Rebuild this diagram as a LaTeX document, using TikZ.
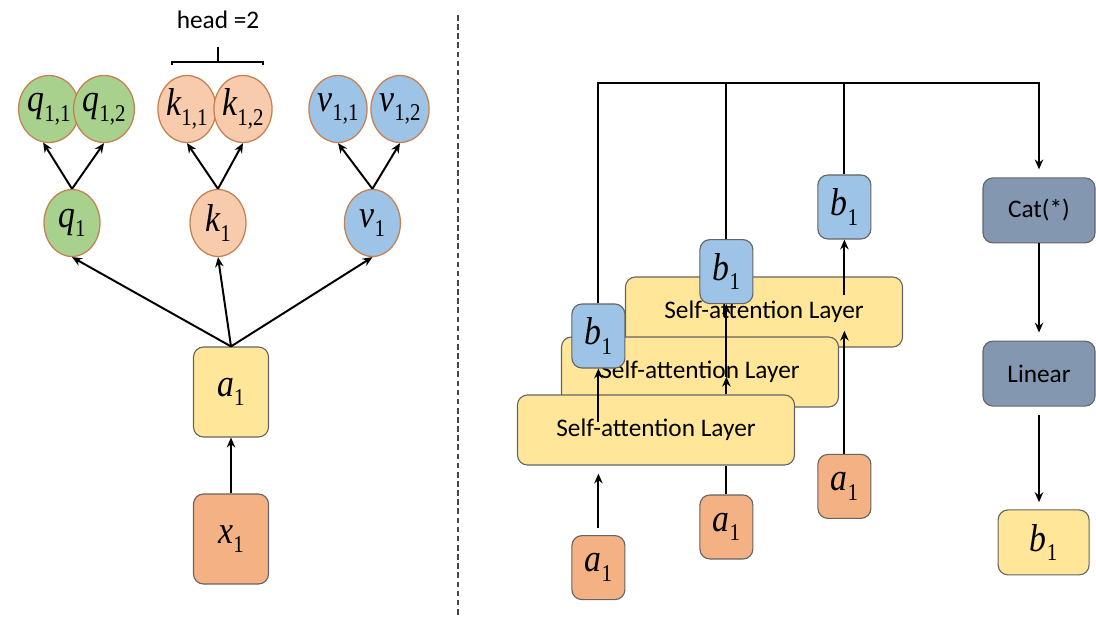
\documentclass[tikz,border=0pt]{standalone}
\usepackage{fontspec}
\setsansfont{Carlito}
\newfontfamily\tms{Liberation Serif}
\usepackage{tikz}
\usetikzlibrary{shapes,arrows,arrows.meta,positioning,calc}

\definecolor{qgreen}{RGB}{169,209,142}
\definecolor{kpeach}{RGB}{248,203,173}
\definecolor{vblue}{RGB}{157,195,230}
\definecolor{ayellow}{RGB}{255,230,153}
\definecolor{xorange}{RGB}{244,177,131}
\definecolor{slate}{RGB}{132,151,176}
\definecolor{rim}{RGB}{197,128,82}
\definecolor{edge}{RGB}{100,100,100}

% italic letter with a small upright index, slightly tall like the figure
\newcommand{\sym}[2]{\scalebox{1}[1.15]{{\tms\itshape #1}\raisebox{-0.25em}{\tms\scalebox{0.62}{#2}}}}

\tikzstyle{arr}   =[->, line width=1.4pt, >={Stealth[length=7pt,width=6pt]}]
\tikzstyle{vec}   =[ellipse, draw=rim, line width=0.9pt, minimum width=1.4cm, minimum height=1.675cm,
                    inner sep=0pt, font=\tms\fontsize{24}{28}\selectfont]
\tikzstyle{tok}   =[rectangle, draw=edge, line width=0.8pt, rounded corners=0.25cm, inner sep=0pt,
                    font=\tms\fontsize{24}{28}\selectfont]
\tikzstyle{small} =[tok, minimum width=1.325cm, minimum height=1.6cm]
\tikzstyle{big}   =[tok, minimum width=1.875cm, minimum height=2.25cm]
\tikzstyle{layer} =[tok, fill=ayellow, minimum width=6.925cm, minimum height=1.75cm,
                    font=\sffamily\fontsize{18}{22}\selectfont]
\tikzstyle{op}    =[tok, fill=slate, minimum width=2.8cm, minimum height=1.625cm,
                    font=\sffamily\fontsize{18}{22}\selectfont]

\begin{document}
\begin{tikzpicture}

  \useasboundingbox (0,0) rectangle (27.4,-15.425);

  % ── left: one token, two heads ───────────────────────────────────────────
  \node[vec, fill=qgreen] (q11) at (1.225,-2.725) {\sym{q}{1,1}};
  \node[vec, fill=qgreen] (q12) at (2.6,-2.725)   {\sym{q}{1,2}};
  \node[vec, fill=kpeach] (k11) at (4.675,-2.725) {\sym{k}{1,1}};
  \node[vec, fill=kpeach] (k12) at (6.075,-2.725) {\sym{k}{1,2}};
  \node[vec, fill=vblue]  (v11) at (8.45,-2.725)  {\sym{v}{1,1}};
  \node[vec, fill=vblue]  (v12) at (10.0,-2.725)  {\sym{v}{1,2}};

  \node[vec, fill=qgreen] (q1) at (1.8,-5.575)  {\sym{q}{1}};
  \node[vec, fill=kpeach] (k1) at (5.45,-5.575) {\sym{k}{1}};
  \node[vec, fill=vblue]  (v1) at (9.31,-5.575) {\sym{v}{1}};

  \node[big, fill=ayellow] (a1) at (5.775,-9.8)    {\sym{a}{1}};
  \node[big, fill=xorange] (x1) at (5.775,-13.475) {\sym{x}{1}};

  \node[font=\sffamily\fontsize{18}{22}\selectfont] (head) at (5.45,-0.5) {head =2};
  \draw[line width=1.2pt] (4.3,-1.625) -- (4.3,-1.55) -- (6.575,-1.55) -- (6.575,-1.625);
  \draw[line width=1.2pt] (5.45,-1.175) -- (5.45,-1.55);

  \draw[arr] (x1.north) -- (a1.south);
  \draw[arr] (a1.north) -- (q1.south);
  \draw[arr] (a1.north) -- (k1.south);
  \draw[arr] (a1.north) -- (v1.south);
  \draw[arr] (q1.north) -- (q11.-100);
  \draw[arr] (q1.north) -- (q12.south);
  \draw[arr] (k1.north) -- (k11.south);
  \draw[arr] (k1.north) -- (k12.south);
  \draw[arr] (v1.north) -- (v11.south);
  \draw[arr] (v1.north) -- (v12.south);

  % ── divider ──────────────────────────────────────────────────────────────
  \draw[edge!70!black, line width=0.9pt, dash pattern=on 4pt off 2.5pt] (11.45,-0.375) -- (11.45,-15.425);

  % ── right: stacked layers, back to front ─────────────────────────────────
  \node[layer] (L3) at (19.1,-7.8)   {Self-attention Layer};
  \node[layer] (L2) at (17.5,-9.3)   {Self-attention Layer};
  \node[layer] (L1) at (16.4,-10.75) {Self-attention Layer};

  \node[small, fill=vblue] (b1a) at (14.96,-8.4)   {\sym{b}{1}};
  \node[small, fill=vblue] (b1b) at (18.16,-6.79)  {\sym{b}{1}};
  \node[small, fill=vblue] (b1c) at (21.11,-5.175) {\sym{b}{1}};

  \node[small, fill=xorange] (a1a) at (14.96,-14.19)  {\sym{a}{1}};
  \node[small, fill=xorange] (a1b) at (18.16,-13.175) {\sym{a}{1}};
  \node[small, fill=xorange] (a1c) at (21.11,-12.16)  {\sym{a}{1}};

  \node[op] (cat) at (25.975,-5.26) {Cat(*)};
  \node[op] (lin) at (25.975,-9.34) {Linear};
  \node[tok, fill=ayellow, minimum width=2.275cm, minimum height=1.625cm] (bout) at (26.09,-13.56) {\sym{b}{1}};

  \coordinate (bus) at (0,-2.075);

  % ── arrows ───────────────────────────────────────────────────────────────
  \draw[arr, shorten <=0.18cm, shorten >=0.2cm] (a1a.north) -- (a1a.north |- L1.south);
  \draw[arr, shorten <=0.2cm] (b1a |- L1.center) -- (b1a.south);

  \draw[line width=1.4pt] (a1b.north) -- (a1b.north |- L1.south);
  \draw[arr] (a1b |- L1.north) -- ($(a1b |- L2.center)+(0,-0.12)$);
  \draw[arr] ($(a1b |- L2.center)+(0,-0.12)$) -- (b1b.south);

  \draw[arr] (a1c.north) -- ($(a1c |- L3.south)+(0,0.42)$);
  \draw[arr] ($(b1c |- L3.center)+(0,0.42)$) -- (b1c.south);

  \draw[arr, shorten >=0.2cm] (b1a.north) |- (bus -| cat.north) -- (cat.north);
  \draw[line width=1.4pt] (b1b.north) -- (b1b.north |- bus);
  \draw[line width=1.4pt] (b1c.north) -- (b1c.north |- bus);

  \draw[arr, shorten >=0.2cm] (cat.south) -- (lin.north);
  \draw[arr, shorten <=0.22cm, shorten >=0.18cm] (lin.south) -- (lin.south |- bout.north);

\end{tikzpicture}
\end{document}
